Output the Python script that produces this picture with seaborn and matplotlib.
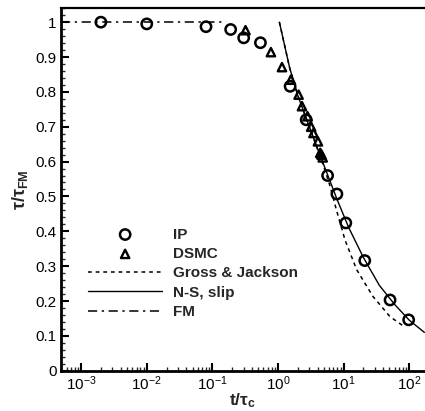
import numpy as np
import matplotlib
matplotlib.use('Agg')
import matplotlib.pyplot as plt
import matplotlib.ticker as mticker
import seaborn as sns

# IP (circles)
ip_t = [0.002, 0.01, 0.08, 0.19, 0.30, 0.54, 1.53, 2.69, 5.7, 7.9, 10.8, 21, 51, 98]
ip_y = [1.0, 0.995, 0.987, 0.979, 0.955, 0.941, 0.816, 0.72, 0.56, 0.507, 0.424, 0.316, 0.203, 0.146]

# DSMC (triangles)
dsmc_t = [0.32, 0.78, 1.15, 1.57, 2.06, 2.32, 2.82, 3.2, 3.47, 4.06, 4.4, 4.6, 4.8]
dsmc_y = [0.977, 0.914, 0.871, 0.835, 0.792, 0.759, 0.73, 0.70, 0.682, 0.658, 0.625, 0.62, 0.612]

# Gross & Jackson (dashed)
gj_t = [1.05, 1.5, 2.0, 3.0, 5.0, 6.2, 7.8, 10.5, 15.8, 28, 51, 86]
gj_y = [1.0, 0.87, 0.79, 0.70, 0.585, 0.53, 0.46, 0.375, 0.29, 0.213, 0.155, 0.125]

# N-S, slip (solid)
ns_t = [1.05, 1.5, 2.0, 3.0, 5.0, 8.0, 12, 20, 35, 60, 100, 170]
ns_y = [1.0, 0.87, 0.79, 0.70, 0.59, 0.49, 0.41, 0.325, 0.245, 0.19, 0.145, 0.11]

# FM (dash-dot)
fm_t = [0.0005, 0.15]
fm_y = [1.0, 1.0]

sns.set_style('ticks')
plt.rcParams['font.family'] = ['Liberation Sans', 'DejaVu Sans']
plt.rcParams['mathtext.default'] = 'regular'
plt.rcParams['xtick.direction'] = 'in'
plt.rcParams['ytick.direction'] = 'in'

fig = plt.figure(figsize=(4.25, 4.11), dpi=100)
ax = fig.add_axes([0.143, 0.098, 0.857, 0.882])

sns.lineplot(x=gj_t, y=gj_y, ax=ax, color='k', lw=1.1, linestyle=(0, (2.5, 2.5)),
             sort=False, estimator=None, label='Gross & Jackson')
sns.lineplot(x=ns_t, y=ns_y, ax=ax, color='k', lw=1.0, sort=False, estimator=None,
             label='N-S, slip')
sns.lineplot(x=fm_t, y=fm_y, ax=ax, color='k', lw=1.1, linestyle=(0, (6, 3, 1.5, 3)),
             sort=False, estimator=None, label='FM')
sns.scatterplot(x=ip_t, y=ip_y, ax=ax, marker='o', s=55, facecolor='none',
                edgecolor='k', linewidth=1.8, label='IP', zorder=3)
sns.scatterplot(x=dsmc_t, y=dsmc_y, ax=ax, marker='^', s=36, facecolor='none',
                edgecolor='k', linewidth=1.7, label='DSMC', zorder=3)

ax.set_xscale('log')
ax.set_xlim(10 ** -3.31, 10 ** 2.24)
ax.set_ylim(0, 1.04)

ax.yaxis.set_major_locator(mticker.MultipleLocator(0.1))
ax.yaxis.set_minor_locator(mticker.MultipleLocator(0.02))
ax.yaxis.set_major_formatter(mticker.FuncFormatter(lambda v, p: '%g' % round(v, 2)))
ax.xaxis.set_major_locator(mticker.LogLocator(base=10, numticks=10))
ax.xaxis.set_minor_locator(mticker.LogLocator(base=10, subs=np.arange(2, 10), numticks=20))
ax.xaxis.set_minor_formatter(mticker.NullFormatter())

ax.tick_params(which='major', length=6, width=1.5, labelsize=11, pad=3, colors='k')
ax.tick_params(which='minor', length=3, width=1.0)
ax.tick_params(top=False, right=False, which='both')

for s in ['left', 'bottom']:
    ax.spines[s].set_linewidth(2.0)
ax.spines['top'].set_linewidth(1.6)
ax.spines['right'].set_visible(False)
for s in ax.spines.values():
    s.set_color('k')

ax.set_xlabel('t/τ$_c$', fontsize=12.5, fontweight='bold', labelpad=-1.5)
ax.set_ylabel('τ/τ$_{FM}$', fontsize=13, fontweight='bold', labelpad=4)

h, l = ax.get_legend_handles_labels()
order = ['IP', 'DSMC', 'Gross & Jackson', 'N-S, slip', 'FM']
hd = dict(zip(l, h))
ax.legend([hd[k] for k in order], order, loc='upper left', bbox_to_anchor=(0.075, 0.395),
          frameon=False, borderpad=0, borderaxespad=0, handlelength=4.85,
          handletextpad=0.7, labelspacing=0.35, prop={'weight': 'bold', 'size': 11})

fig.savefig('out.png', dpi=100)
